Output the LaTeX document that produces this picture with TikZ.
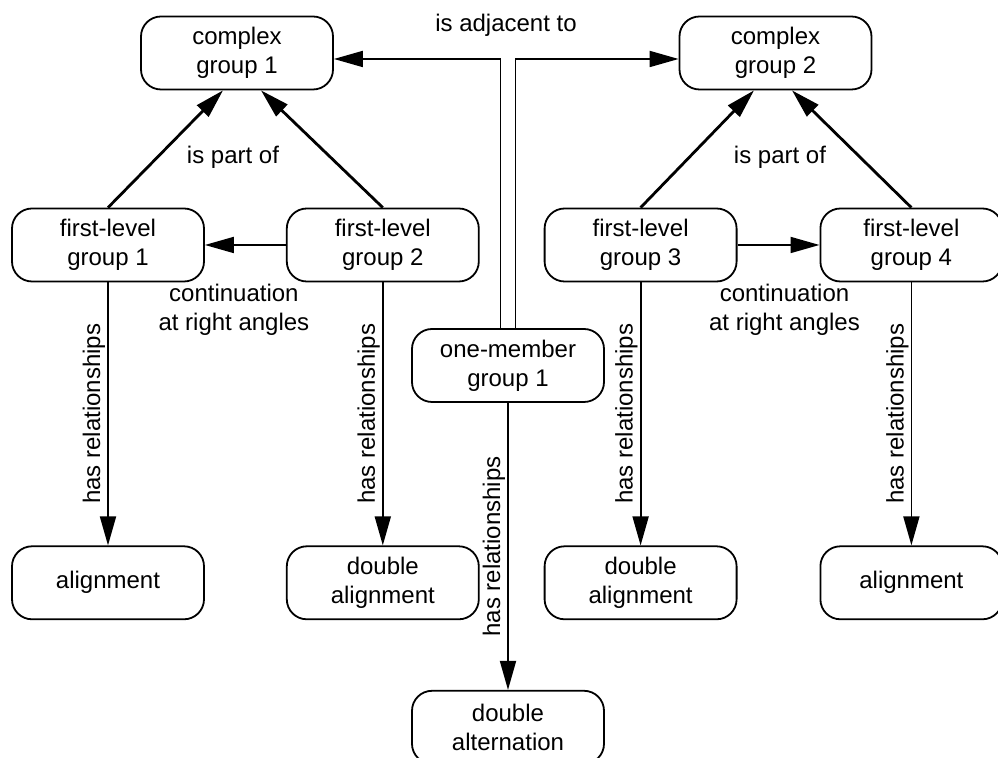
\documentclass[tikz,border=0pt]{standalone}
\usepackage{fontspec}
\setmainfont{Liberation Sans}
\usetikzlibrary{arrows.meta,positioning}

\begin{document}
\begin{tikzpicture}[
  font=\fontsize{12pt}{14.5pt}\selectfont,
  grp/.style={draw, rounded corners=10pt, align=center, minimum width=96pt, minimum height=36.5pt, inner sep=2pt},
  rel/.style={align=center, inner sep=1pt},
  >={Triangle[length=14.5pt, width=8pt]},
  line width=0.9pt
]
\useasboundingbox (0,0) rectangle (499pt,-379pt);

\node[grp] (cg1) at (118.5pt,-26.5pt) {complex\\group 1};
\node[grp] (cg2) at (387.75pt,-26.5pt) {complex\\group 2};

\node[grp] (fl1) at (54pt,-122.5pt) {first-level\\group 1};
\node[grp, right=40.5pt of fl1] (fl2) {first-level\\group 2};
\node[grp, right=32pt of fl2] (fl3) {first-level\\group 3};
\node[grp, right=41pt of fl3, minimum width=91pt] (fl4) {first-level\\group 4};

\node[grp] (om) at (254pt,-182.75pt) {one-member\\group 1};

\node[grp, below=131.5pt of fl1] (al1) {alignment};
\node[grp, below=131.5pt of fl2] (da1) {double\\alignment};
\node[grp, below=131.5pt of fl3] (da2) {double\\alignment};
\node[grp, below=131.5pt of fl4, minimum width=91pt] (al2) {alignment};
\node[grp, below=143.5pt of om] (dalt) {double\\alternation};

\node[rel] (adj) at (253pt,-12.5pt) {is adjacent to};
\node[rel] (part1) at (116.5pt,-78.5pt) {is part of};
\node[rel] (part2) at (390pt,-78.5pt) {is part of};

\draw[->] ([xshift=-3.75pt]om.north) |- ([yshift=-3pt]cg1.east);
\draw[->] ([xshift=3.75pt]om.north) |- ([yshift=-3pt]cg2.west);

\draw[->, line width=1.4pt] (fl1.north) -- ([xshift=-7pt]cg1.south);
\draw[->, line width=1.4pt] (fl2.north) -- ([xshift=12pt]cg1.south);
\draw[->, line width=1.4pt] (fl3.north) -- ([xshift=-10.75pt]cg2.south);
\draw[->, line width=1.4pt] (fl4.north) -- ([xshift=8.25pt]cg2.south);

\draw[->] (fl2) -- node[rel, midway, below=18pt, xshift=-5.75pt] {continuation\\at right angles} (fl1);
\draw[->] (fl3) -- node[rel, midway, below=18pt, xshift=3pt] {continuation\\at right angles} (fl4);

\draw[->] (fl1) -- node[rel, midway, rotate=90, anchor=south] {has relationships} (al1);
\draw[->] (fl2) -- node[rel, midway, rotate=90, anchor=south] {has relationships} (da1);
\draw[->] (fl3) -- node[rel, midway, rotate=90, anchor=south] {has relationships} (da2);
\draw[->] (fl4) -- node[rel, midway, rotate=90, anchor=south] {has relationships} (al2);
\draw[->] (om) -- node[rel, midway, rotate=90, anchor=south] {has relationships} (dalt);
\end{tikzpicture}
\end{document}
